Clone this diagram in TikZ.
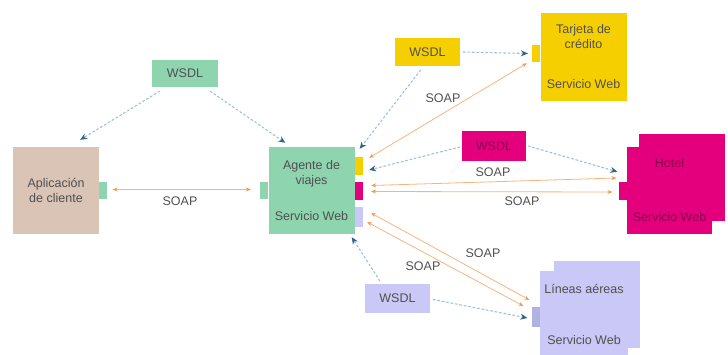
\documentclass[tikz,border=0pt]{standalone}
\usepackage{fontspec}
\setmainfont{Liberation Sans}
\usetikzlibrary{arrows.meta, calc, positioning}
\definecolor{ws-ink}{HTML}{505050}
\definecolor{ws-mint}{HTML}{8ED4AF}
\definecolor{ws-sand}{HTML}{D9C4B6}
\definecolor{ws-gold}{HTML}{F6CF00}
\definecolor{ws-rose}{HTML}{E4007D}
\definecolor{ws-rosetext}{HTML}{86004E}
\definecolor{ws-lilac}{HTML}{C9C8F6}
\definecolor{ws-lilacport}{HTML}{B2B1E4}
\definecolor{ws-dash}{HTML}{9CC0DA}
\definecolor{ws-head}{HTML}{2E638E}
\definecolor{ws-soap}{HTML}{F5B47E}
\definecolor{ws-soaphead}{HTML}{F29A50}

\begin{document}
\begin{tikzpicture}[x=1pt, y=-1pt, line cap=round,
  box/.style={inner sep=0pt, align=center, text=ws-ink, font=\fontsize{12.5}{15}\selectfont},
  svc/.style={box, minimum width=86pt, minimum height=87pt},
  wsdl/.style={box, minimum width=65pt, minimum height=28pt},
  port/.style={inner sep=0pt, minimum width=8pt, minimum height=17pt},
  wsdlarrow/.style={ws-dash, line width=1.1pt, dash pattern=on 2pt off 2.5pt,
    -{Stealth[length=7pt, width=6pt, color=ws-head]}},
  soap/.style={ws-soap, line width=0.8pt,
    {Stealth[length=5pt, width=4pt, color=ws-soaphead]}-{Stealth[length=5pt, width=4pt, color=ws-soaphead]}},
  lbl/.style={text=ws-ink, font=\fontsize{12.5}{15}\selectfont, inner sep=1pt}]
  \useasboundingbox (0,0) rectangle (728,354);

  % cliente y agente
  \node[svc, fill=ws-sand] (cliente) at (56,190.5) {Aplicación\\de cliente};
  \node[port, fill=ws-mint, right=0pt of cliente] (cport) {};
  \node[svc, fill=ws-mint] (agente) at (311.5,190.5) {Agente de\\viajes\\[21pt]Servicio Web};
  \node[port, fill=ws-mint, left=0pt of agente] (aport) {};
  \node[port, fill=ws-gold, minimum height=18pt, right=0pt of agente, yshift=24.5pt] (yport) {};
  \node[port, fill=ws-rose, minimum height=18pt, right=0pt of agente] (mport) {};
  \node[port, fill=ws-lilac, minimum height=20pt, right=0pt of agente, yshift=-26.5pt] (lport) {};

  % servicios web
  \node[svc, fill=ws-gold, minimum height=88pt] (tarjeta) at (583.5,57) {Tarjeta de\\crédito\\[25pt]Servicio Web};
  \node[port, fill=ws-gold, left=0pt of tarjeta, yshift=3.5pt] (tport) {};
  \node[svc, fill=ws-rose] (hotelback) at (682,177.5) {};
  \node[svc, fill=ws-rose, text=ws-rosetext, minimum width=85pt] (hotel) at (669.5,190) {Hotel\\[39pt]Servicio Web};
  \node[port, fill=ws-rose, minimum height=18pt, left=0pt of hotel, yshift=-1pt] (hport) {};
  \node[svc, fill=ws-lilac] (lineasback) at (596.5,304) {};
  \node[svc, fill=ws-lilac, minimum width=88pt] (lineas) at (584,314) {Líneas aéreas\\[36pt]Servicio Web};
  \node[port, fill=ws-lilacport, minimum height=20pt, left=0pt of lineas, yshift=-3pt] (lnport) {};

  % documentos WSDL
  \node[wsdl, fill=ws-mint, minimum width=66pt, minimum height=27pt] (wsdlA) at (185,73.5) {WSDL};
  \node[wsdl, fill=ws-gold] (wsdlB) at (427.5,52) {WSDL};
  \node[wsdl, fill=ws-rose, text=ws-rosetext, minimum width=64pt, minimum height=30pt] (wsdlC) at (494,146) {WSDL};
  \node[wsdl, fill=ws-lilac, minimum height=29pt] (wsdlD) at (397.5,298.5) {WSDL};

  % enlaces WSDL
  \draw[wsdlarrow] ([shift={(8,4)}]wsdlA.south west) -- ([shift={(-19,-7)}]cliente.north east);
  \draw[wsdlarrow] ([shift={(-8,4)}]wsdlA.south east) -- ([shift={(17,-4)}]agente.north west);
  \draw[wsdlarrow] ([shift={(3,0)}]wsdlB.east) -- ([shift={(-4,0)}]tport.west);
  \draw[wsdlarrow] ([shift={(-7,4)}]wsdlB.south) -- ([shift={(5,2)}]agente.north east);
  \draw[wsdlarrow] ([shift={(-2,1)}]wsdlC.west) -- ([shift={(6,4)}]yport.east);
  \draw[wsdlarrow] ([shift={(2,0)}]wsdlC.east) -- ([shift={(-1,-10)}]hport.north west);
  \draw[wsdlarrow] ([shift={(15,-3)}]wsdlD.north west) -- ([shift={(-3,3)}]agente.south east);
  \draw[wsdlarrow] ([shift={(3,1)}]wsdlD.east) -- ([shift={(-4,1)}]lnport.west);

  % enlaces SOAP
  \draw[soap] ([shift={(5,-1)}]cport.east) -- ([shift={(-9,-1)}]aport.west);
  \draw[soap] ([shift={(6,1)}]yport.north east) -- ([shift={(-5,1)}]tport.south west);
  \draw[soap] ([shift={(8,-5)}]mport.east) -- ([shift={(-2,-13)}]hport.west);
  \draw[soap] ([shift={(8,1)}]mport.east) -- ([shift={(-6,1)}]hport.west);
  \draw[soap] ([shift={(8,-4)}]lport.east) -- ([shift={(-2,-17)}]lnport.west);
  \draw[soap] ([shift={(4,5)}]lport.east) -- ([shift={(-8,-11)}]lnport.west);

  \node[lbl] (soapA) at (180,201) {SOAP};
  \node[lbl] (soapB) at (443,98) {SOAP};
  \node[lbl] (soapC) at (493,172) {SOAP};
  \node[lbl] (soapD) at (522,201) {SOAP};
  \node[lbl] (soapE) at (483,253) {SOAP};
  \node[lbl] (soapF) at (423,266) {SOAP};
\end{tikzpicture}
\end{document}
